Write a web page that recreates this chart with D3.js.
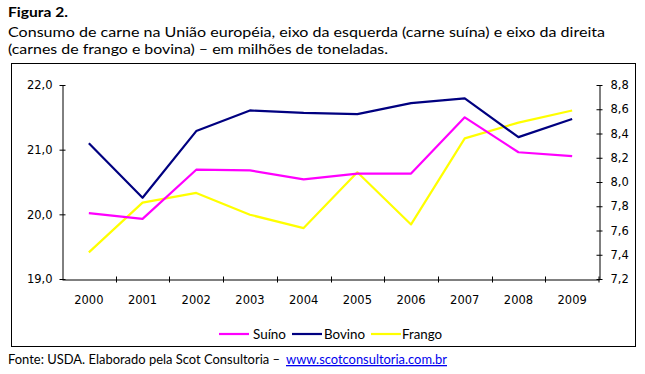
<!DOCTYPE html>
<html>
<head>
<meta charset="utf-8">
<script src="https://cdn.jsdelivr.net/npm/d3@7"></script>
<style>
  body { margin: 0; background: #fff; }
  svg { display: block; }
  .axis text { font-family: "DejaVu Sans", sans-serif; font-size: 11.5px; fill: #000; }
  .axis path, .axis line { stroke: #000; }
  .txt { font-family: Lato, "Open Sans", sans-serif; fill: #000; }
</style>
</head>
<body>
<div id="chart"></div>
<script>
var years = ["2000", "2001", "2002", "2003", "2004", "2005", "2006", "2007", "2008", "2009"];
// left axis: carne suína
var suino = [20.02, 19.93, 20.69, 20.68, 20.54, 20.63, 20.63, 21.50, 20.96, 20.90];
// right axis: bovina e frango
var bovino = [8.32, 7.87, 8.42, 8.59, 8.57, 8.56, 8.65, 8.69, 8.37, 8.52];
var frango = [7.42, 7.83, 7.91, 7.73, 7.62, 8.08, 7.65, 8.36, 8.49, 8.59];
var leftTicks = [19, 20, 21, 22];
var rightTicks = [7.2, 7.4, 7.6, 7.8, 8.0, 8.2, 8.4, 8.6, 8.8];

var svgWidth = 645, svgHeight = 374;
var plot = { left: 62, right: 599, top: 85, bottom: 279 };

var svg = d3.select("#chart").append("svg")
  .attr("width", svgWidth)
  .attr("height", svgHeight);

var ptFormat = d3.formatLocale({ decimal: ",", thousands: ".", grouping: [3], currency: ["R$", ""] }).format(".1f");

// titles
svg.append("text").attr("class", "txt")
  .attr("x", 8).attr("y", 17)
  .attr("font-weight", "bold").attr("font-size", 14)
  .attr("textLength", 60).attr("lengthAdjust", "spacingAndGlyphs")
  .text("Figura 2.");
svg.append("text").attr("class", "txt")
  .attr("x", 8).attr("y", 37).attr("font-size", 14)
  .attr("textLength", 597).attr("lengthAdjust", "spacingAndGlyphs")
  .text("Consumo de carne na União européia, eixo da esquerda (carne suína) e eixo da direita");
svg.append("text").attr("class", "txt")
  .attr("x", 8).attr("y", 54).attr("font-size", 14)
  .attr("textLength", 380).attr("lengthAdjust", "spacingAndGlyphs")
  .text("(carnes de frango e bovina) – em milhões de toneladas.");

// frame
svg.append("rect")
  .attr("x", 11.5).attr("y", 63.5)
  .attr("width", 624).attr("height", 283)
  .attr("fill", "none").attr("stroke", "#000");

// scales
var x = d3.scaleBand().domain(years).range([plot.left, plot.right]).padding(0);
var yLeft = d3.scaleLinear().domain([19, 22]).range([plot.bottom, plot.top]);
var yRight = d3.scaleLinear().domain([7.2, 8.8]).range([plot.bottom, plot.top]);

// left axis
var leftAxis = svg.append("g").attr("class", "axis")
  .attr("transform", `translate(${plot.left + 0.5},0)`)
  .call(d3.axisLeft(yLeft).tickValues(leftTicks).tickFormat(ptFormat).tickSizeInner(3).tickSizeOuter(0).tickPadding(7));
leftAxis.selectAll(".tick line").attr("x1", 3);

// right axis
var rightAxis = svg.append("g").attr("class", "axis")
  .attr("transform", `translate(${plot.right + 0.5},0)`)
  .call(d3.axisRight(yRight).tickValues(rightTicks).tickFormat(ptFormat).tickSizeInner(3).tickSizeOuter(0).tickPadding(8));
rightAxis.selectAll(".tick line").attr("x1", -3);

// bottom axis: labels in band centres, ticks on band edges
var bottomAxis = svg.append("g").attr("class", "axis")
  .attr("transform", `translate(0,${plot.bottom + 0.5})`)
  .call(d3.axisBottom(x).tickSize(0).tickPadding(16));
bottomAxis.selectAll(".tick line").remove();
bottomAxis.selectAll("line.edge")
  .data(years.slice(1).concat(["end"]))
  .enter().append("line")
  .attr("class", "edge")
  .attr("x1", d => d === "end" ? plot.right : Math.round(x(d)) + 0.5)
  .attr("x2", d => d === "end" ? plot.right : Math.round(x(d)) + 0.5)
  .attr("y1", -3).attr("y2", 3)
  .attr("stroke", "#000");

// lines
var series = [
  { name: "Suíno", values: suino, scale: yLeft, color: "#FF00FF" },
  { name: "Bovino", values: bovino, scale: yRight, color: "#000080" },
  { name: "Frango", values: frango, scale: yRight, color: "#FFFF00" }
];

var drawOrder = [series[2], series[0], series[1]];
drawOrder.forEach(function(s) {
  var line = d3.line()
    .x((d, i) => x(years[i]) + x.bandwidth() / 2)
    .y(d => s.scale(d));
  svg.append("path")
    .datum(s.values)
    .attr("d", line)
    .attr("fill", "none")
    .attr("stroke", s.color)
    .attr("stroke-width", 2.2)
    .attr("stroke-linejoin", "round");
});

// legend
var legendPos = [
  { x1: 219, x2: 249, tx: 253, tw: 33 },
  { x1: 292, x2: 322, tx: 324, tw: 41 },
  { x1: 371, x2: 401, tx: 402, tw: 40 }
];
var legend = svg.append("g");
series.forEach(function(s, i) {
  var p = legendPos[i];
  legend.append("line")
    .attr("x1", p.x1).attr("x2", p.x2)
    .attr("y1", 334).attr("y2", 334)
    .attr("stroke", s.color).attr("stroke-width", 2.2);
  legend.append("text").attr("class", "txt")
    .attr("x", p.tx).attr("y", 338.5).attr("font-size", 13)
    .attr("textLength", p.tw).attr("lengthAdjust", "spacingAndGlyphs")
    .text(s.name);
});

// footer
svg.append("text").attr("class", "txt")
  .attr("x", 8).attr("y", 364).attr("font-size", 13)
  .attr("textLength", 272).attr("lengthAdjust", "spacingAndGlyphs")
  .text("Fonte: USDA. Elaborado pela Scot Consultoria –");
svg.append("text").attr("class", "txt")
  .attr("x", 286).attr("y", 364).attr("font-size", 13)
  .attr("textLength", 161).attr("lengthAdjust", "spacingAndGlyphs")
  .attr("text-decoration", "underline")
  .style("fill", "#0000EE")
  .text("www.scotconsultoria.com.br");
</script>
</body>
</html>
